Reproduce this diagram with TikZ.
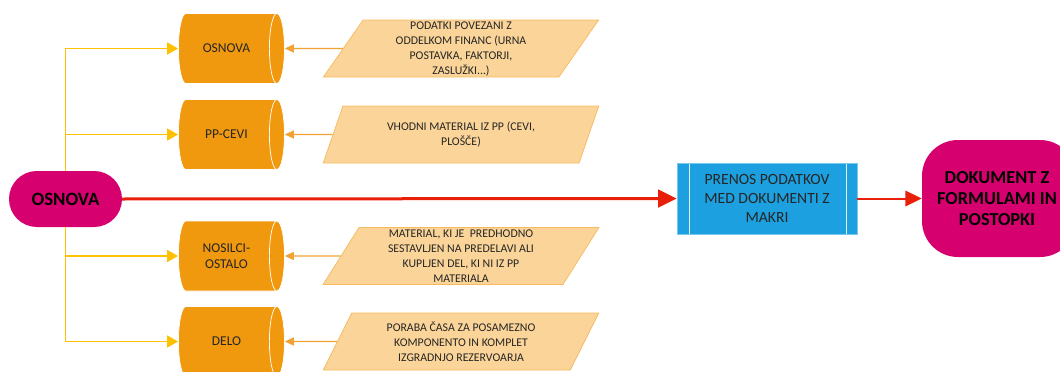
\documentclass[tikz,border=0pt]{standalone}
\usepackage{fontspec}
\setmainfont{Carlito}
\usetikzlibrary{shapes.geometric,arrows.meta}
\definecolor{magen}{RGB}{214,0,111}
\definecolor{storeor}{RGB}{240,152,14}
\definecolor{datafill}{RGB}{250,212,152}
\definecolor{dataline}{RGB}{246,186,96}
\definecolor{feedyel}{RGB}{255,192,0}
\definecolor{thinor}{RGB}{242,162,50}
\definecolor{mainred}{RGB}{232,32,10}
\definecolor{procblue}{RGB}{28,160,224}
\definecolor{txt}{RGB}{38,38,38}
\tikzset{term/.style={fill=magen, text=black, align=center, inner sep=0pt},
store/.style={cylinder, aspect=1.7, fill=storeor, draw=white, line width=0.7pt, minimum width=70pt, minimum height=106pt, inner sep=0pt, font=\fontsize{13.5}{15.5}\selectfont},
storetxt/.style={align=center, inner sep=0pt, text=txt, font=\fontsize{13.5}{15.5}\selectfont},
datain/.style={trapezium, trapezium left angle=64, trapezium right angle=116, trapezium stretches=true, fill=datafill, draw=dataline, line width=0.7pt, minimum width=276pt, minimum height=57pt, inner sep=0pt, align=center, text=txt, font=\fontsize{11.8}{15}\selectfont},
%connectors
feed/.style={draw=feedyel, line width=1.6pt, -{Triangle[length=11pt,width=12pt]}},
back/.style={draw=thinor, line width=1.2pt, -{Triangle[length=9pt,width=8pt]}},
main/.style={draw=mainred, line width=#1, -{Triangle[length=2.2*(#1)+12pt,width=2.2*(#1)+11pt]}},
main/.default={3pt}}

\begin{document}
\begin{tikzpicture}[x=1pt,y=-1pt]
\useasboundingbox (0,0) rectangle (1060,372);

% start and end
\node[term, rounded corners=27.9pt, minimum width=113pt, minimum height=56pt, font=\bfseries\fontsize{18.8}{22}\selectfont] (start) at (65.5,199) {OSNOVA};
\node[term, rounded corners=36pt, minimum width=154pt, minimum height=117pt] (dok) at (999,198.5) {};
\node[align=center, inner sep=0pt, text=black, font=\bfseries\fontsize{18.3}{21}\selectfont] (doktxt) at (997,199) {DOKUMENT Z\\FORMULAMI IN\\POSTOPKI};

% makro
\node[fill=procblue, draw=procblue!60!white, line width=0.7pt, minimum width=180pt, minimum height=71pt, inner sep=0pt, align=center, text=txt, font=\fontsize{15.6}{19}\selectfont,
  path picture={\draw[white!85!procblue, line width=0.8pt] ([xshift=12pt]path picture bounding box.north west) -- ([xshift=12pt]path picture bounding box.south west)
  ([xshift=-11pt]path picture bounding box.north east) -- ([xshift=-11pt]path picture bounding box.south east);}] (prenos) at (767,198.5) {PRENOS PODATKOV\\MED DOKUMENTI Z\\MAKRI};

% stores and their data
\foreach \n/\y/\lbl/\txt in {1/48.5/{OSNOVA}/{PODATKI POVEZANI Z\\ODDELKOM FINANC (URNA\\POSTAVKA, FAKTORJI,\\ZASLUŽKI...)},
  2/134.5/{PP-CEVI}/{VHODNI MATERIAL IZ PP (CEVI,\\PLOŠČE)},
  3/256/{NOSILCI-\\OSTALO}/{MATERIAL, KI JE \ PREDHODNO\\SESTAVLJEN NA PREDELAVI ALI\\KUPLJEN DEL, KI NI IZ PP\\MATERIALA},
  4/341.5/{DELO}/{PORABA ČASA ZA POSAMEZNO\\KOMPONENTO IN KOMPLET\\IZGRADNJO REZERVOARJA}}{
  \node[store] (s\n) at (227.5,\y) {\phantom{OSNOVA}};
  \node[storetxt] (l\n) at (226.5,\y) {\lbl};
  \node[datain] (d\n) at (461,\y) {\txt};
  \draw[back] (d\n.west) -- (s\n.east);
}

\draw[feed] (start.north) |- (s1.west);
\draw[feed] (start.north) |- (s2.west);
\draw[feed] (start.south) |- (s3.west);
\draw[feed] (start.south) |- (s4.west);

\draw[main] (start.east) -- (prenos.west);
\draw[main=2pt] (prenos.east) -- (dok.west);
\end{tikzpicture}
\end{document}
